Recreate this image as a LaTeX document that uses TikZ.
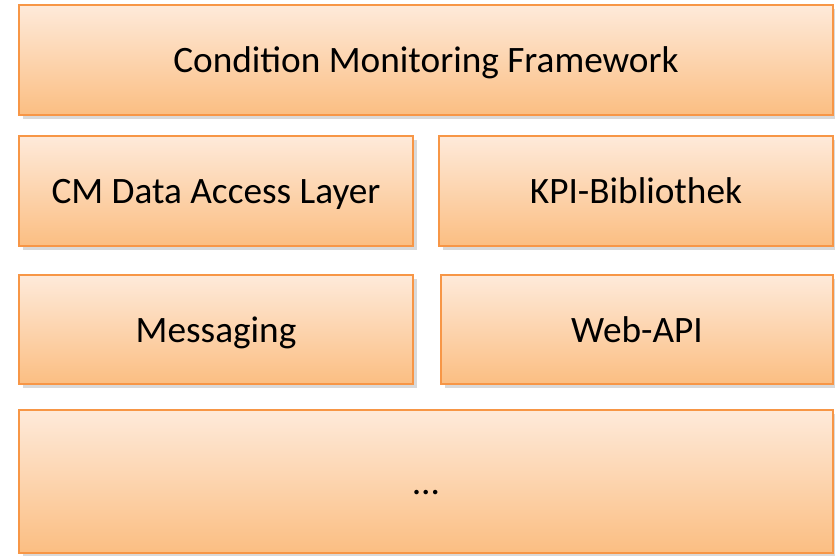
\documentclass[tikz,border=0pt]{standalone}
\usepackage{fontspec}
\setmainfont{Carlito}
\usetikzlibrary{shadows}
\definecolor{boxtop}{RGB}{254,234,218}
\definecolor{boxbottom}{RGB}{251,190,130}
\definecolor{boxline}{RGB}{247,150,70}
\tikzset{
    layer/.style={draw=boxline, line width=1.5pt, rectangle, top color=boxtop, bottom color=boxbottom,
        drop shadow={opacity=0.3, shadow xshift=3pt, shadow yshift=-3pt},
        font=\fontsize{26.5}{30}\selectfont, text height=18.4pt, text depth=0pt, inner sep=0pt}
}
\begin{document}
\begin{tikzpicture}[x=0.025cm, y=-0.025cm]
        \useasboundingbox (0,0) rectangle (835,555);
        % Top layer
        \node[layer, minimum width=20.35cm, minimum height=2.75cm] (cmf) at (426,60) {Condition Monitoring Framework};
        
        % Second row
        \node[layer, minimum width=9.85cm, minimum height=2.75cm] (dal) at (216,191) {CM Data Access Layer};
        \node[layer, minimum width=9.85cm, minimum height=2.75cm] (kpi) at (636,191) {KPI-Bibliothek};
        
        % Third row
        \node[layer, minimum width=9.85cm, minimum height=2.72cm] (msg) at (216,329.5) {Messaging};
        \node[layer, minimum width=9.8cm, minimum height=2.72cm] (api) at (637,329.5) {Web-API};
        
        % Bottom
        \node[layer, minimum width=20.35cm, minimum height=3.57cm] (rest) at (426,481.5) {…};
\end{tikzpicture}
\end{document}
